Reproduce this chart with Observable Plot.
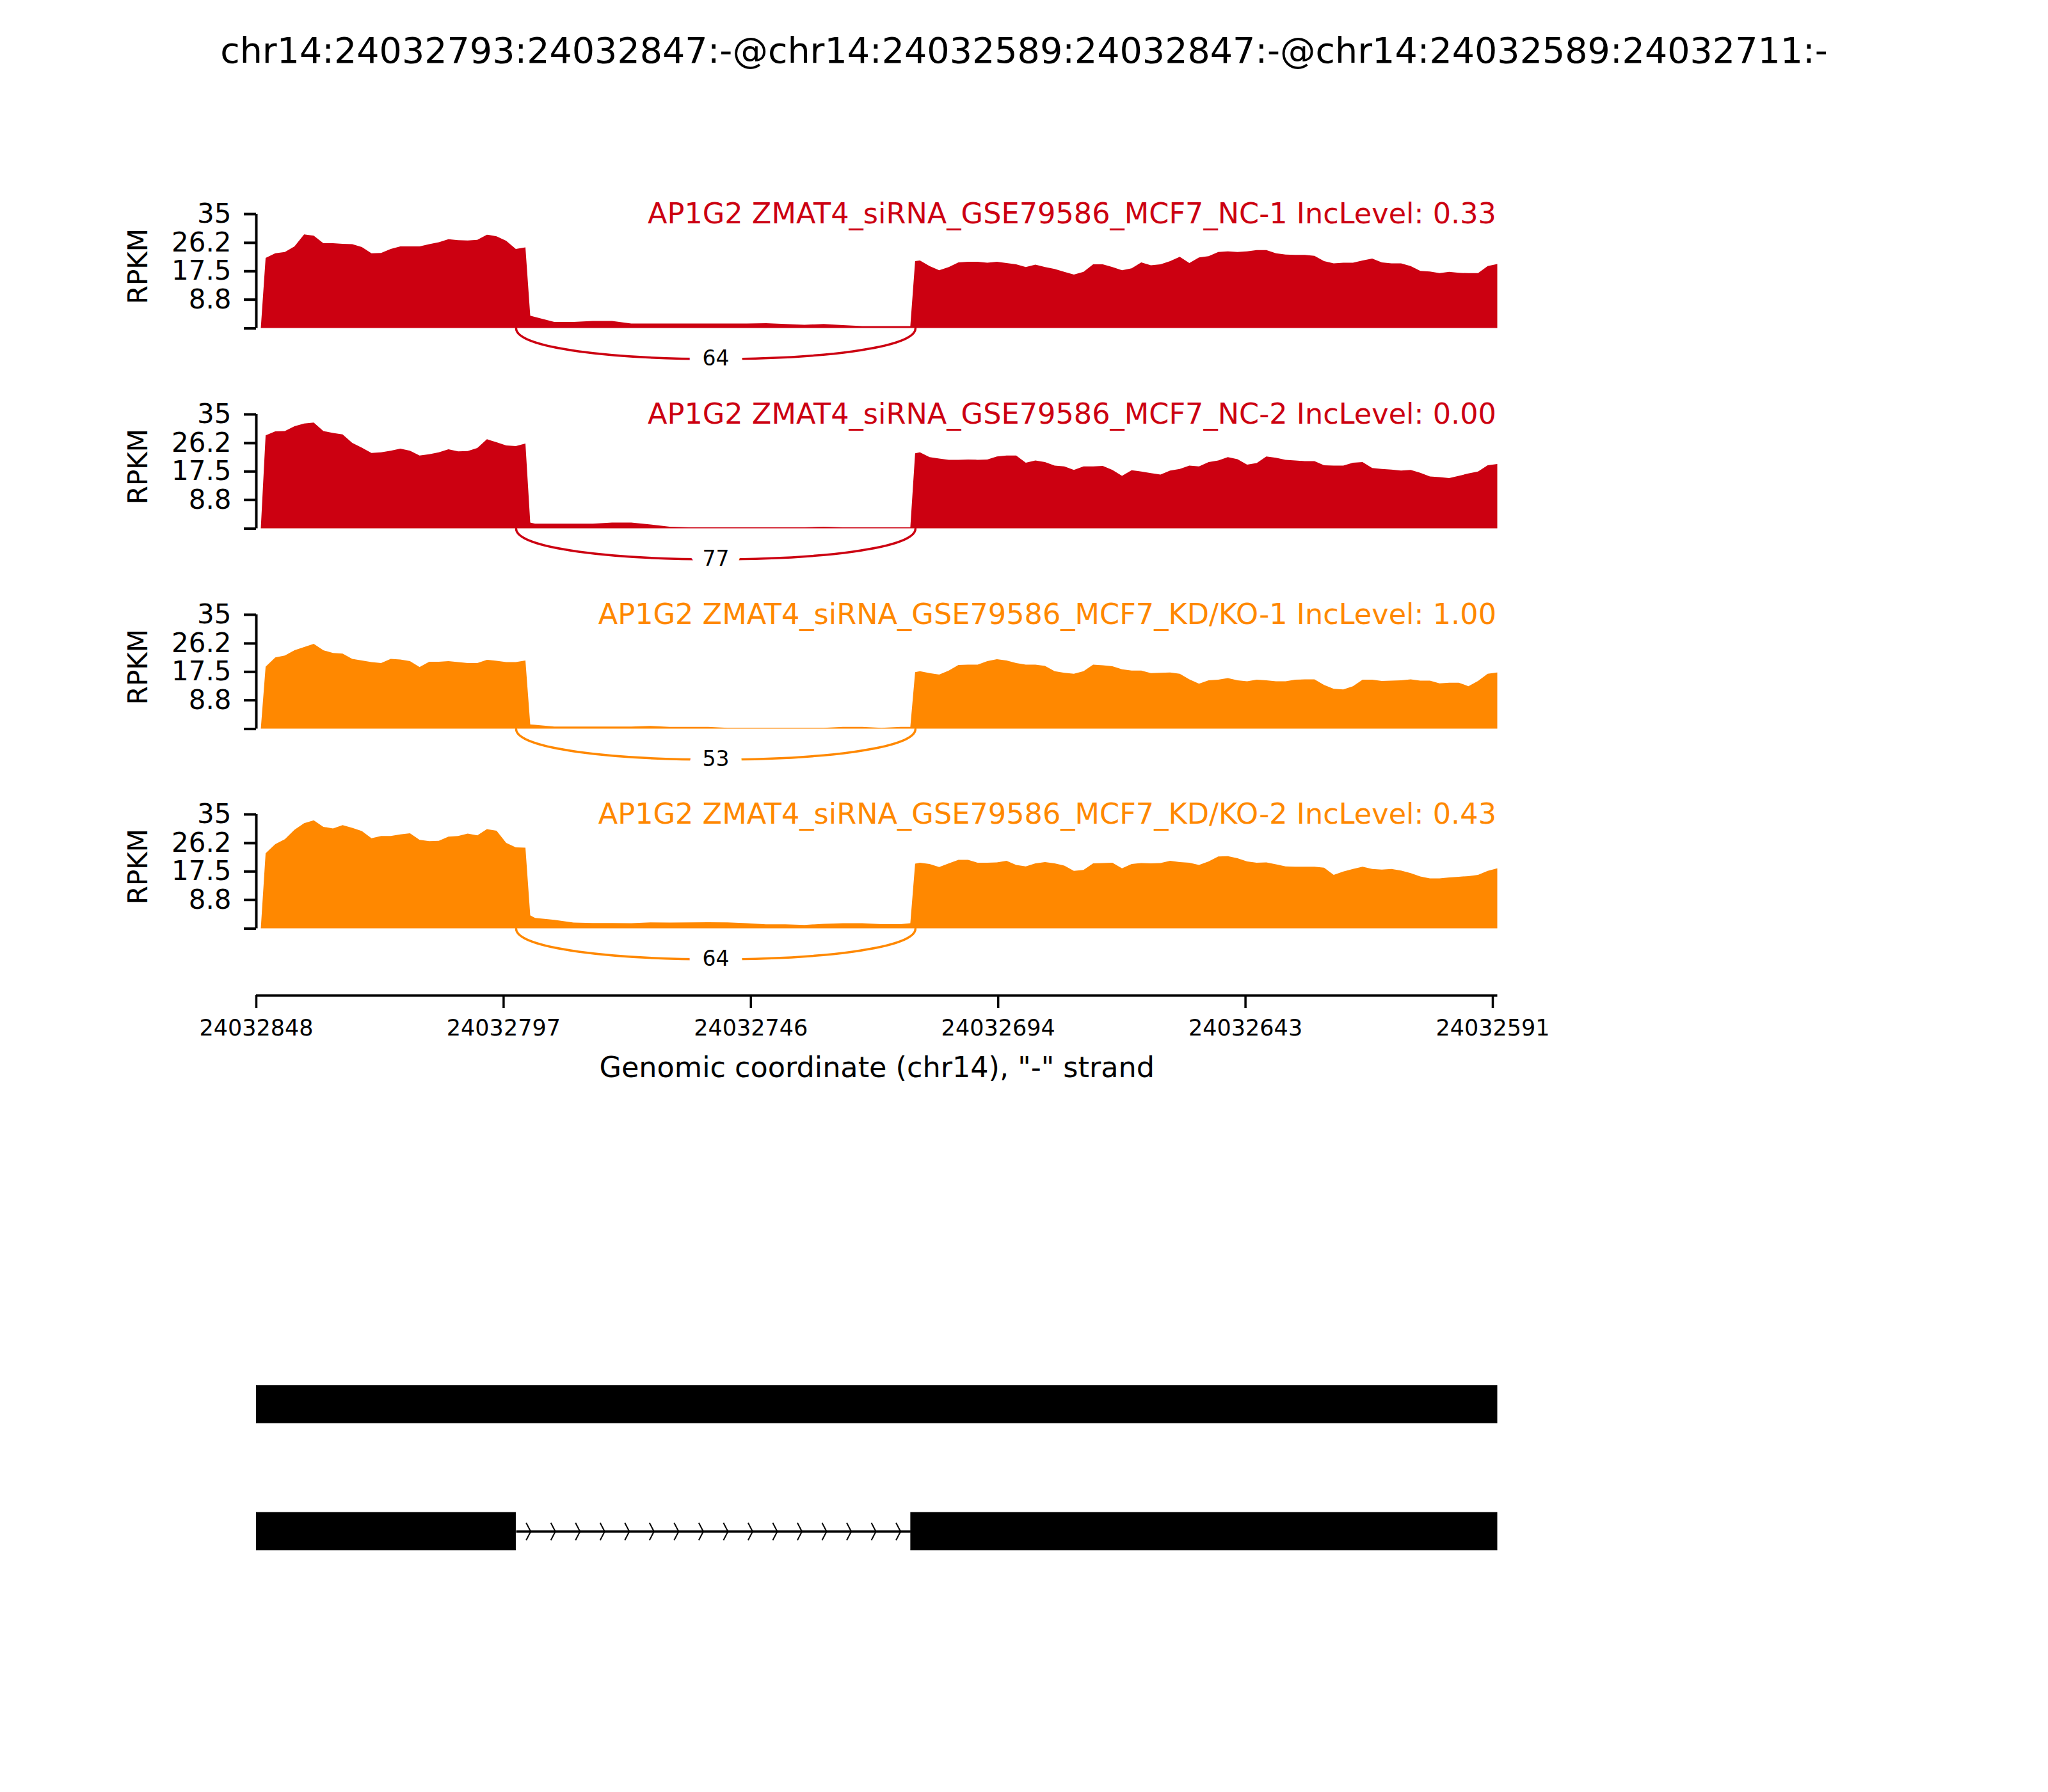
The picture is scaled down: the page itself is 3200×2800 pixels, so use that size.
<!DOCTYPE html>
<html>
<head>
<meta charset="utf-8">
<script src="https://cdn.jsdelivr.net/npm/d3@7"></script>
<script src="https://cdn.jsdelivr.net/npm/@observablehq/plot@0.6"></script>
<style>
  html, body { margin: 0; padding: 0; background: #ffffff; }
  #chart { position: relative; width: 3200px; height: 2800px; background: #ffffff; font-family: "DejaVu Sans", sans-serif; color: #000; }
  #chart > svg, #chart > div { position: absolute; left: 0; }
  #title { width: 3200px; text-align: center; font-size: 55.5px; line-height: 55.5px; top: 51px; white-space: nowrap; }
</style>
</head>
<body>
<div id="chart"><div id="title"></div></div>
<script>
// ---------------- data ----------------
const titleText = "chr14:24032793:24032847:-@chr14:24032589:24032847:-@chr14:24032589:24032711:-";
const chromosome = "chr14";
const strand = "-";
const regionStart = 24032848;   // left edge of the plot (minus strand, reversed)
const regionEnd = 24032590;     // right edge of the plot
const xTickLabels = ["24032848", "24032797", "24032746", "24032694", "24032643", "24032591"];
const yTicks = [0, 8.8, 17.5, 26.2, 35];
const yMax = 35;

const geneName = "AP1G2";
const sampleNames = [
  "ZMAT4_siRNA_GSE79586_MCF7_NC-1",
  "ZMAT4_siRNA_GSE79586_MCF7_NC-2",
  "ZMAT4_siRNA_GSE79586_MCF7_KD/KO-1",
  "ZMAT4_siRNA_GSE79586_MCF7_KD/KO-2"
];
const incLevels = ["0.33", "0.00", "1.00", "0.43"];
const sampleColors = ["#CC0011", "#CC0011", "#FF8800", "#FF8800"];

// coverage positions: distance (bp) from regionStart
const offsets = [1, 2, 4, 6, 8, 10, 12, 14, 16, 18, 20, 22, 24, 26, 28, 30, 32, 34, 36, 38, 40, 42, 44, 46, 48, 50, 52, 54, 56,
  57, 58, 62, 66, 70, 74, 78, 82, 86, 90, 94, 98, 102, 106, 110, 114, 118, 122, 126, 130, 134, 136,
  137, 138, 140, 142, 144, 146, 148, 150, 152, 154, 156, 158, 160, 162, 164, 166, 168, 170, 172, 174, 176, 178, 180,
  182, 184, 186, 188, 190, 192, 194, 196, 198, 200, 202, 204, 206, 208, 210, 212, 214, 216, 218, 220, 222, 224,
  226, 228, 230, 232, 234, 236, 238, 240, 242, 244, 246, 248, 250, 252, 254, 256, 258];

// RPKM coverage per sample
const covNC1 = [0, 21.5, 22.9, 23.3, 25.0, 28.7, 28.3, 26.0, 26.0, 25.8, 25.7, 24.8, 22.9, 23.0, 24.2, 25.0, 25.0, 25.0, 25.7, 26.3, 27.2, 26.9, 26.8, 27.0, 28.6, 28.1, 26.7, 24.2, 24.7,
  3.8, 3.4, 1.9, 1.9, 2.15, 2.15, 1.37, 1.37, 1.37, 1.37, 1.37, 1.37, 1.37, 1.5, 1.24, 1.0, 1.24, 0.9, 0.6, 0.6, 0.6, 0.6,
  20.5, 20.7, 19.0, 17.7, 18.7, 20.1, 20.3, 20.3, 20.0, 20.3, 19.9, 19.5, 18.7, 19.4, 18.7, 18.1, 17.2, 16.4, 17.2, 19.5, 19.5, 18.7, 17.7,
  18.3, 20.1, 19.2, 19.5, 20.5, 21.8, 19.9, 21.6, 22.0, 23.3, 23.5, 23.3, 23.5, 23.9, 23.9, 22.9, 22.5, 22.4, 22.4, 22.1, 20.5, 19.8,
  20.0, 20.0, 20.7, 21.3, 20.1, 19.8, 19.8, 19.0, 17.5, 17.3, 16.8, 17.2, 16.9, 16.8, 16.8, 19.0, 19.6];
const covNC2 = [0, 28.5, 29.7, 29.8, 31.3, 32.1, 32.4, 29.8, 29.2, 28.8, 26.2, 24.7, 23.1, 23.3, 23.8, 24.4, 23.8, 22.3, 22.7, 23.3, 24.2, 23.6, 23.7, 24.6, 27.3, 26.4, 25.4, 25.2, 26.0,
  1.8, 1.44, 1.44, 1.44, 1.44, 1.77, 1.77, 1.18, 0.5, 0.33, 0.33, 0.33, 0.33, 0.33, 0.33, 0.33, 0.5, 0.33, 0.33, 0.33, 0.33, 0.33,
  23.0, 23.3, 21.8, 21.4, 21.0, 21.0, 21.1, 21.0, 21.1, 22.0, 22.3, 22.3, 20.1, 20.8, 20.3, 19.2, 19.0, 17.9, 19.0, 19.0, 19.1, 17.9, 16.1,
  17.8, 17.4, 16.9, 16.5, 17.7, 18.2, 19.2, 19.0, 20.3, 20.8, 21.8, 21.2, 19.5, 20.0, 22.0, 21.6, 21.0, 20.8, 20.6, 20.6, 19.3, 19.2,
  19.2, 20.1, 20.3, 18.5, 18.2, 18.0, 17.7, 17.9, 17.0, 15.9, 15.7, 15.4, 16.1, 16.8, 17.4, 19.3, 19.7];
const covKD1 = [0, 19.0, 21.8, 22.4, 24.0, 25.0, 26.0, 24.0, 23.2, 23.0, 21.4, 20.9, 20.4, 20.1, 21.4, 21.2, 20.7, 18.9, 20.5, 20.5, 20.7, 20.4, 20.1, 20.1, 21.1, 20.8, 20.4, 20.4, 20.9,
  1.3, 1.2, 0.66, 0.66, 0.66, 0.66, 0.66, 0.86, 0.53, 0.53, 0.53, 0.26, 0.26, 0.26, 0.26, 0.26, 0.26, 0.53, 0.53, 0.26, 0.53, 0.53,
  17.3, 17.6, 17.0, 16.6, 17.8, 19.5, 19.6, 19.6, 20.7, 21.3, 20.9, 20.1, 19.6, 19.6, 19.2, 17.6, 17.1, 16.8, 17.6, 19.6, 19.4, 19.1, 18.2,
  17.8, 17.8, 17.0, 17.1, 17.2, 16.8, 15.1, 13.8, 14.8, 15.0, 15.5, 14.8, 14.5, 15.0, 14.8, 14.5, 14.5, 15.0, 15.1, 15.1, 13.4, 12.2,
  12.0, 13.0, 15.0, 15.0, 14.6, 14.7, 14.8, 15.1, 14.7, 14.7, 13.9, 14.1, 14.1, 13.0, 14.6, 16.8, 17.2];
const covKD2 = [0, 23.0, 25.8, 27.3, 30.2, 32.2, 33.1, 31.1, 30.6, 31.6, 30.8, 29.8, 27.6, 28.3, 28.3, 28.8, 29.1, 27.1, 26.7, 26.8, 28.1, 28.3, 29.0, 28.5, 30.4, 29.9, 26.2, 24.8, 24.7,
  4.0, 3.2, 2.6, 1.8, 1.65, 1.65, 1.6, 1.85, 1.8, 1.85, 1.9, 1.85, 1.6, 1.25, 1.25, 1.06, 1.4, 1.6, 1.6, 1.3, 1.3, 1.6,
  19.8, 20.1, 19.7, 18.8, 19.9, 21.0, 21.0, 20.1, 20.1, 20.2, 20.7, 19.4, 19.0, 19.9, 20.3, 19.9, 19.2, 17.6, 17.9, 19.9, 20.0, 20.1, 18.4,
  19.7, 20.0, 19.9, 20.0, 20.7, 20.3, 20.1, 19.4, 20.5, 22.0, 22.1, 21.5, 20.5, 20.1, 20.2, 19.6, 19.0, 18.9, 18.9, 18.9, 18.6, 16.4,
  17.4, 18.2, 18.9, 18.2, 18.0, 18.2, 17.7, 16.9, 15.9, 15.3, 15.3, 15.6, 15.8, 16.0, 16.4, 17.6, 18.4];
const coverages = [covNC1, covNC2, covKD1, covKD2];

// splice junction (skipping the retained intron)
const junctionLeft = 24032794;
const junctionRight = 24032711;
const junctionCounts = [64, 77, 53, 64];

// gene model: two isoforms
const isoformExons = [
  { iso: 0, start: 24032848, end: 24032590 },
  { iso: 1, start: 24032848, end: 24032794 },
  { iso: 1, start: 24032712, end: 24032590 }
];
const isoformIntrons = [{ iso: 1, start: 24032794, end: 24032712 }];
const chevronsPerIntron = 16;

// ---------------- layout / style ----------------
const W = 3200, ML = 400, MR = 860.5;
const panelTops = [284, 597, 909.5, 1222];
const panelH = 300, panelMT = 50;
const arcH = 12.5;
const font = "DejaVu Sans";

document.getElementById("title").textContent = titleText;
const chart = document.getElementById("chart");

// cubic Bezier curve factory (4 control points per line)
function bezier4(context) {
  let pts = [];
  return {
    areaStart() {}, areaEnd() {},
    lineStart() { pts = []; },
    point(x, y) { pts.push([+x, +y]); },
    lineEnd() {
      if (pts.length === 4) {
        context.moveTo(pts[0][0], pts[0][1]);
        context.bezierCurveTo(pts[1][0], pts[1][1], pts[2][0], pts[2][1], pts[3][0], pts[3][1]);
      }
    }
  };
}

const xTickValues = xTickLabels.map((_, i) =>
  (+xTickLabels[0]) - i * ((+xTickLabels[0]) - (+xTickLabels[xTickLabels.length - 1])) / (xTickLabels.length - 1));

function place(svg, top) {
  svg.style.position = "absolute";
  svg.style.left = "0px";
  svg.style.top = top + "px";
  svg.style.overflow = "visible";
  svg.style.background = "transparent";
  chart.appendChild(svg);
}

coverages.forEach((cov, k) => {
  const color = sampleColors[k];
  const data = offsets.map((d, i) => ({ pos: regionStart - d, v: cov[i] }));
  const arc = [
    { x: junctionLeft, y: 0 }, { x: junctionLeft, y: -arcH },
    { x: junctionRight, y: -arcH }, { x: junctionRight, y: 0 }
  ];
  const svg = Plot.plot({
    width: W, height: panelH,
    marginLeft: ML, marginRight: MR, marginTop: panelMT, marginBottom: 0,
    style: { fontFamily: font, background: "transparent", overflow: "visible", color: "#000" },
    x: { domain: [regionStart, regionEnd], axis: null },
    y: { domain: [-14, yMax], axis: null },
    marks: [
      Plot.areaY(data, { x: "pos", y1: 0, y2: "v", fill: color, curve: "linear" }),
      Plot.line(arc, { x: "x", y: "y", curve: bezier4, stroke: color, strokeWidth: 3.5, fill: "none" }),
      Plot.text([{ x: (junctionLeft + junctionRight) / 2, y: -0.75 * arcH, t: String(junctionCounts[k]) }],
        { x: "x", y: "y", text: "t", fontSize: 33, fill: "black", stroke: "white", strokeWidth: 44, lineAnchor: "middle" }),
      Plot.ruleX([regionStart], { y1: 0, y2: yMax, stroke: "black", strokeWidth: 4 }),
      Plot.axisY({ ticks: yTicks, tickFormat: d => d === 0 ? "" : String(d), tickSize: 19, tickPadding: 20,
        fontSize: 42, strokeWidth: 4, label: null }),
      Plot.text([{ x: regionStart, y: 19, t: "RPKM" }],
        { x: "x", y: "y", text: "t", rotate: -90, dx: -184, fontSize: 42, fill: "black", lineAnchor: "middle" }),
      Plot.text([{ x: regionEnd, y: yMax, t: `${geneName} ${sampleNames[k]} IncLevel: ${incLevels[k]}` }],
        { x: "x", y: "y", text: "t", textAnchor: "end", lineAnchor: "bottom", dy: 14, dx: -2, fontSize: 44.6, fill: color })
    ]
  });
  place(svg, panelTops[k]);
});

// x axis
{
  const svg = Plot.plot({
    width: W, height: 200,
    marginLeft: ML, marginRight: MR, marginTop: 10, marginBottom: 180,
    style: { fontFamily: font, background: "transparent", overflow: "visible", color: "#000" },
    x: { domain: [regionStart, regionEnd] },
    y: { domain: [0, 1], axis: null },
    marks: [
      Plot.ruleY([0], { stroke: "black", strokeWidth: 4 }),
      Plot.axisX({ ticks: xTickValues, tickFormat: (d, i) => xTickLabels[i], tickSize: 20, tickPadding: 18,
        fontSize: 35, strokeWidth: 3.5, label: null }),
      Plot.text([`Genomic coordinate (${chromosome}), "${strand}" strand`],
        { frameAnchor: "bottom", text: d => d, dy: 127, lineAnchor: "bottom", fontSize: 44.5, fill: "black" })
    ]
  });
  place(svg, 1535);
}

// gene model
{
  const chevrons = [];
  isoformIntrons.forEach(intr => {
    for (let j = 0; j < chevronsPerIntron; j++) {
      chevrons.push({ iso: intr.iso, x: intr.start + (j + 0.5) * (intr.end - intr.start) / chevronsPerIntron });
    }
  });
  const chevronSymbol = {
    draw(context) {
      context.moveTo(-3.5, -13.5);
      context.lineTo(3.5, 0);
      context.lineTo(-3.5, 13.5);
    }
  };
  const svg = Plot.plot({
    width: W, height: 400,
    marginLeft: ML, marginRight: MR, marginTop: 0, marginBottom: 0,
    style: { fontFamily: font, background: "transparent", overflow: "visible", color: "#000" },
    x: { domain: [regionStart, regionEnd], axis: null },
    y: { domain: [0, 1], range: [94, 292.5], axis: null },
    marks: [
      Plot.link(isoformIntrons, { x1: "start", x2: "end", y1: "iso", y2: "iso", stroke: "black", strokeWidth: 3.5 }),
      Plot.rect(isoformExons, { x1: "start", x2: "end", y1: d => d.iso - 0.15, y2: d => d.iso + 0.15, fill: "black" }),
      Plot.dot(chevrons, { x: "x", y: "iso", symbol: chevronSymbol, r: 10, stroke: "black", fill: "none", strokeWidth: 2 })
    ]
  });
  place(svg, 2100);
}
</script>
</body>
</html>
